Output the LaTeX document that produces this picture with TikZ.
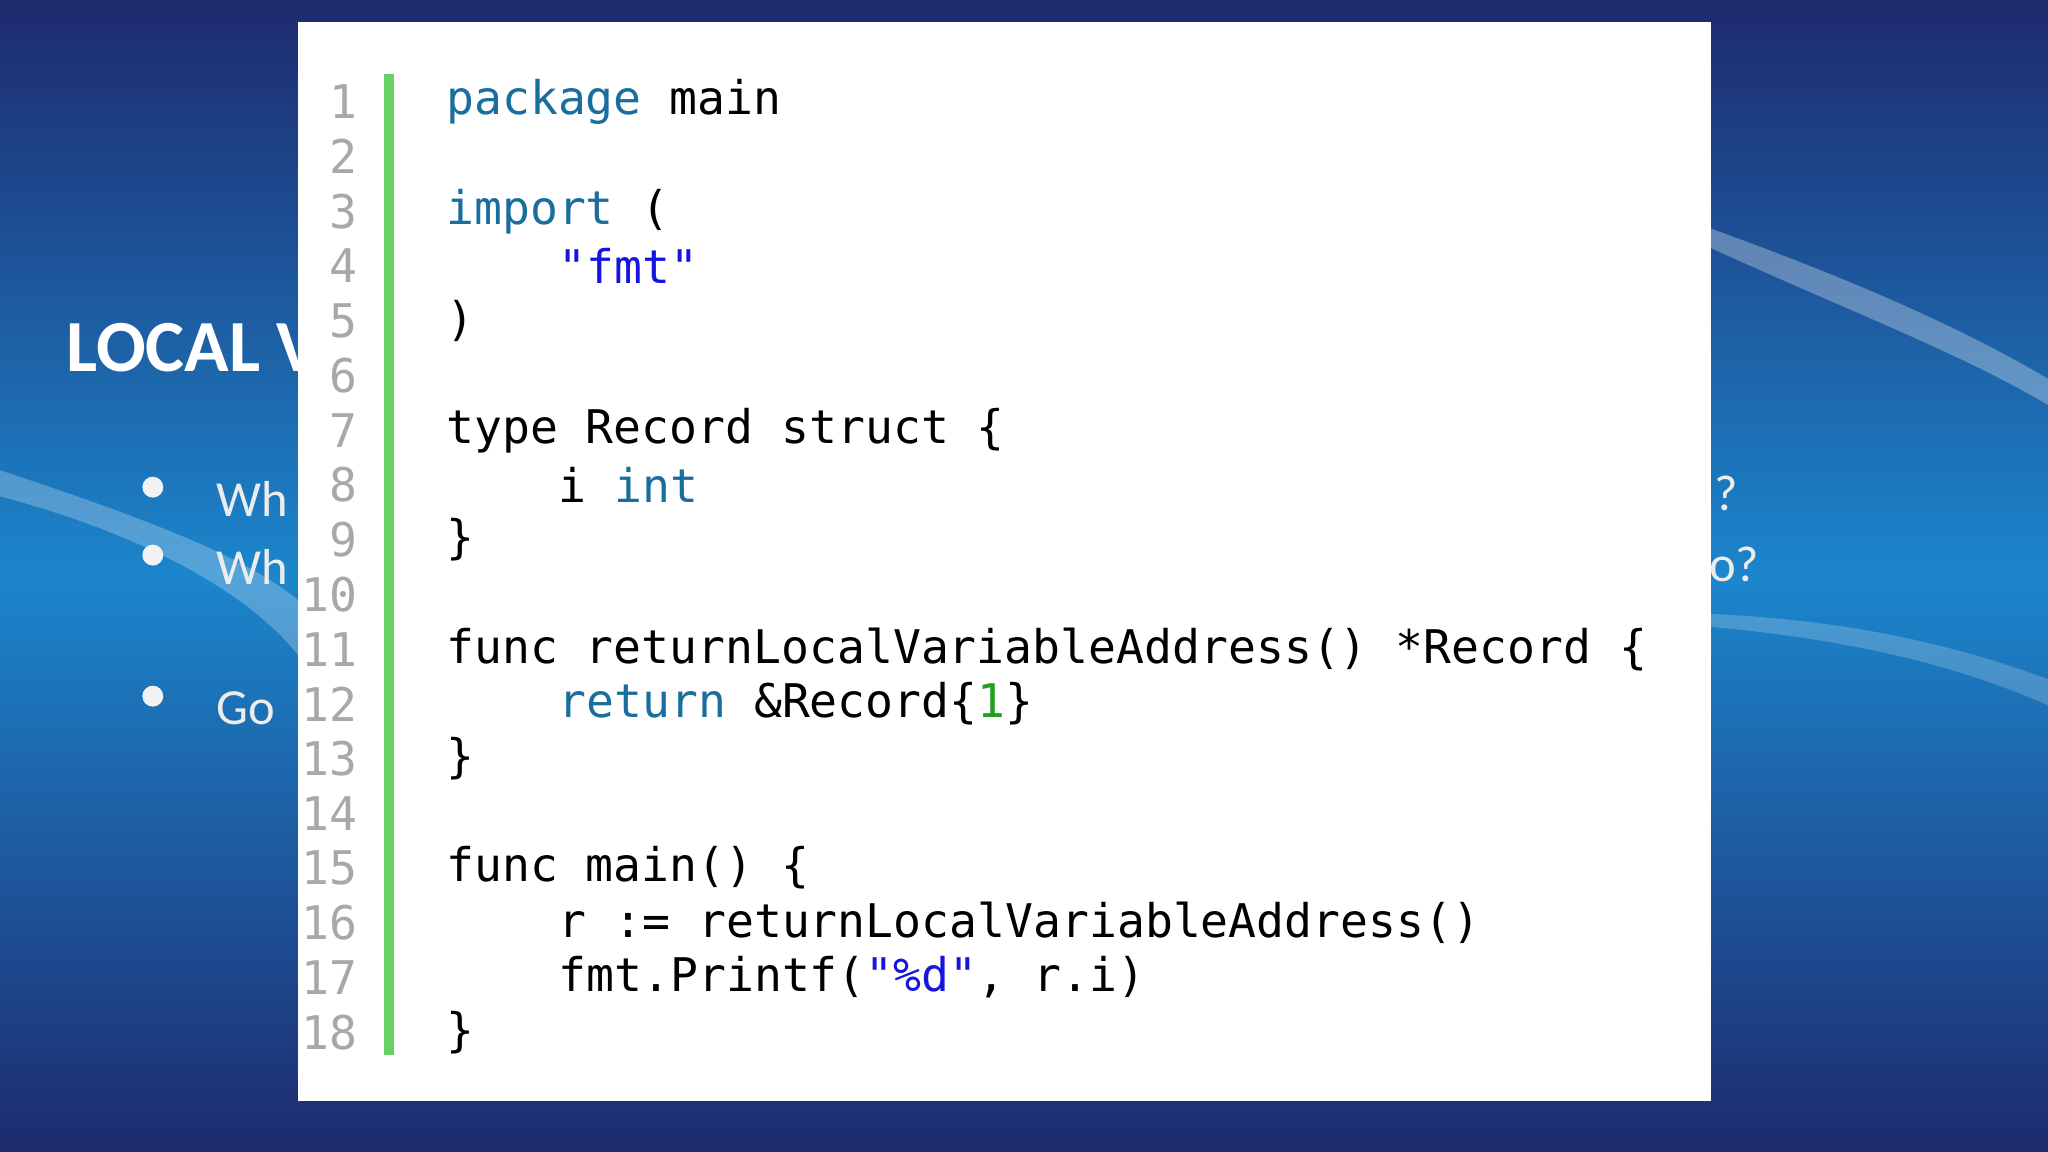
\documentclass[tikz,border=0pt]{standalone}
\usepackage{fontspec}
\setmainfont{Carlito}
\setmonofont{DejaVu Sans Mono}
\definecolor{kw}{HTML}{1A6E9E}
\definecolor{strc}{HTML}{1515E0}
\definecolor{numc}{HTML}{1FA01F}
\definecolor{lnc}{HTML}{A8A8A8}
\definecolor{bgdark}{HTML}{1E2A6E}
\definecolor{bgmid}{HTML}{1C86CC}
\tikzset{
  lineno/.style={anchor=east, text=lnc, font=\ttfamily\fontsize{10.1}{12}\selectfont, inner sep=0pt},
  codeline/.style={anchor=west, font=\ttfamily\fontsize{10.1}{12}\selectfont, inner sep=0pt},
  slidetext/.style={anchor=west, text=white!85!gray, font=\fontsize{11}{13}\selectfont, inner sep=0pt},
  bulletdot/.style={circle, fill=white!90!gray, inner sep=0pt, minimum size=0.16cm}
}
\newcommand{\kw}[1]{\textcolor{kw}{#1}}
\newcommand{\st}[1]{\textcolor{strc}{#1}}
\begin{document}
\begin{tikzpicture}[x=0.01cm, y=-0.01cm]
    \useasboundingbox (0,0) rectangle (1568,882);
    % background
    \shade[top color=bgdark, bottom color=bgdark, middle color=bgmid] (0,0) rectangle (1568,882);
    \fill[white, opacity=0.25] (0,380) .. controls (150,420) and (220,480) .. (240,520)
        -- (240,470) .. controls (200,430) and (120,400) .. (0,360) -- cycle;
    \fill[white, opacity=0.3] (1310,190) .. controls (1420,240) and (1500,270) .. (1568,310)
        -- (1568,290) .. controls (1500,250) and (1420,215) .. (1310,175) -- cycle;
    \fill[white, opacity=0.2] (1310,480) .. controls (1420,490) and (1500,510) .. (1568,540)
        -- (1568,520) .. controls (1500,495) and (1420,475) .. (1310,470) -- cycle;
    % slide text around the panel
    \node[anchor=west, text=white, font=\bfseries\fontsize{16}{18}\selectfont, inner sep=0pt] (title) at (50,266) {LOCAL V};
    \node[bulletdot] (b1) at (117,373) {};
    \node[bulletdot] (b2) at (117,425) {};
    \node[bulletdot] (b3) at (117,533) {};
    \node[slidetext] (t1) at (165,382) {Wh};
    \node[slidetext] (t2) at (165,434) {Wh};
    \node[slidetext] (t3) at (165,542) {Go};
    \node[slidetext] (t4) at (1312,378) {?};
    \node[slidetext] (t5) at (1308,432) {o?};
    % code panel
    \fill[white] (228,17) rectangle (1310,843);
    \fill[green!70!black!60!white] (294,57) rectangle (302,808);
    \foreach \n in {1,...,18}
        \node[lineno] (ln\n) at (274,{78+(\n-1)*41.9}) {\n};
    \node[codeline] (c1) at (341,78) {\kw{package} main};
    \node[codeline] (c3) at (341,161.8) {\kw{import} (};
    \node[codeline] (c4) at (427,203.7) {\st{"fmt"}};
    \node[codeline] (c5) at (341,245.6) {)};
    \node[codeline] (c7) at (341,329.4) {type Record struct \{};
    \node[codeline] (c8) at (427,371.3) {i \kw{int}};
    \node[codeline] (c9) at (341,413.2) {\}};
    \node[codeline] (c11) at (341,497) {func returnLocalVariableAddress() *Record \{};
    \node[codeline] (c12) at (427,538.9) {\kw{return} \&Record\{\textcolor{numc}{1}\}};
    \node[codeline] (c13) at (341,580.8) {\}};
    \node[codeline] (c15) at (341,664.6) {func main() \{};
    \node[codeline] (c16) at (427,706.5) {r := returnLocalVariableAddress()};
    \node[codeline] (c17) at (427,748.4) {fmt.Printf(\st{"\%d"}, r.i)};
    \node[codeline] (c18) at (341,790.3) {\}};
\end{tikzpicture}
\end{document}
